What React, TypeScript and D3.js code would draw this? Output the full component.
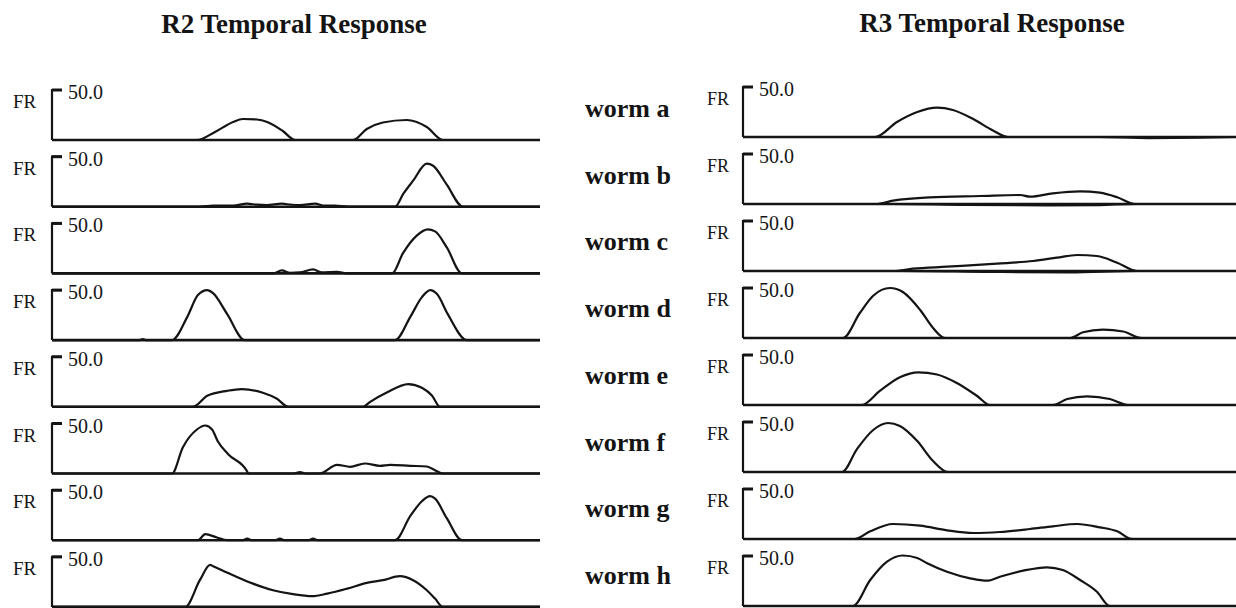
import React from 'react';
import * as d3 from 'd3';

// time runs 0..100 across each trace, FR in spikes/s (axis top = 50.0)
const worms = ['worm a', 'worm b', 'worm c', 'worm d', 'worm e', 'worm f', 'worm g', 'worm h'];
const panelTitles = ['R2 Temporal Response', 'R3 Temporal Response'];
const frMax = 50;
const frTickLabel = '50.0';

// R2 traces [time, FR]
const r2a = [[0, 0], [29.7, 0], [33.4, 8], [37.1, 18], [39.1, 21], [42, 20.5], [44.1, 18], [47.3, 9], [49.8, 0], [61.7, 0], [64.5, 11], [67.8, 17.5], [72.7, 20], [76.8, 13], [80.1, 0], [100, 0]];
const r2b = [[0, 0], [30.3, 0], [33, 1], [37.1, 1], [40, 3], [42, 2], [44, 1.5], [47.1, 3], [49, 2], [50.8, 1.5], [53.9, 3], [55.9, 1], [58, 1], [60.7, 0], [70.3, 0], [72, 13], [74, 26], [76.8, 43], [78.1, 41], [80.9, 22], [84.2, 0], [100, 0]];
const r2c = [[0, 0], [45.3, 0], [47.1, 3], [48.8, 0.5], [50.8, 1], [53.5, 4], [55.3, 1], [58.4, 1.5], [60.4, 0], [69.7, 0], [71.9, 20], [74.8, 38], [77, 44], [78.5, 42], [80.9, 26], [84, 0], [100, 0]];
const r2d = [[0, 0], [18, 0], [18.6, 1], [19.2, 0], [24.6, 0], [27.7, 23], [29.9, 45], [31.8, 50], [33, 47], [35.9, 26], [39.5, 0], [70.3, 0], [73.4, 23], [75.8, 43], [77.5, 50], [78.9, 46], [81.1, 26], [85, 0], [100, 0]];
const r2e = [[0, 0], [28.9, 0], [31.8, 11], [35.9, 16], [38.9, 17.7], [43.2, 14], [46.1, 8], [48.4, 0], [63.7, 0], [65.2, 5], [68.6, 14.3], [73, 22.7], [75.8, 19], [77.9, 11], [79.5, 0], [100, 0]];
const r2f = [[0, 0], [24.6, 0], [26.8, 26], [29.7, 44], [31.4, 48], [32.8, 44], [34, 32], [36.1, 19.3], [40, 2], [40.2, 0], [49.5, 0], [50.8, 1.5], [52, 0], [54.9, 0], [58.4, 8.7], [61.1, 6.7], [64.1, 10], [67.2, 7.7], [69.3, 8.7], [73.4, 7.7], [76.8, 7], [78.1, 4.3], [80.1, 0], [100, 0]];
const r2g = [[0, 0], [29.9, 0], [31.4, 6], [33.8, 2.7], [35.9, 0], [39, 0], [40, 1.5], [41, 0], [45.7, 0], [46.7, 1.5], [47.7, 0], [52.5, 0], [53.5, 1.5], [54.5, 0], [70.3, 0], [73.4, 24], [75.8, 39], [77.5, 44], [78.5, 41.5], [80.9, 22], [84, 0], [100, 0]];
const r2h = [[0, 0], [27.3, 0], [30.3, 26.7], [32.4, 42], [33, 40.7], [37.1, 31.7], [41.2, 23.3], [45.3, 16.7], [49.4, 12.7], [53.3, 10.7], [56.4, 13.3], [60.5, 18.3], [64.5, 24], [67.8, 26.7], [71.3, 30.7], [74, 26.7], [76.8, 16.7], [78.5, 8.3], [80.1, 0], [100, 0]];

// R3 traces [time, FR]
const r3a = [[0, 0], [26.7, 0], [31.1, 15], [35.2, 25], [39.2, 29.3], [42.4, 27], [46.5, 18], [50.5, 6.5], [53.5, 0], [100, 0]];
const r3b = [[0, 0], [27.1, 0], [30.3, 3.3], [37.8, 6.7], [47.9, 8], [56, 9], [58, 7.3], [62.6, 10.7], [68.1, 12.7], [72.1, 11.3], [75.6, 6.7], [79.2, 0], [100, 0]];
const r3c = [[0, 0], [30.3, 0], [34.3, 2.3], [41.2, 4.3], [51.3, 7.3], [58.6, 10], [63.4, 13.3], [67.5, 16], [71.5, 15], [75.6, 8.3], [79.6, 0], [100, 0]];
const r3d = [[0, 0], [20.2, 0], [23.6, 25], [26.3, 42.3], [29.7, 50], [32.3, 46], [35.8, 28], [38.4, 10], [40.8, 0], [66.1, 0], [68.7, 5.7], [72.7, 8.3], [76.8, 6.5], [80.6, 0], [100, 0]];
const r3e = [[0, 0], [24, 0], [27.7, 14.3], [31.7, 27.7], [35.4, 32.7], [39.2, 30.5], [43.2, 22], [47.3, 9], [49.9, 0], [62.6, 0], [65.5, 6], [69.5, 8.7], [74.1, 6], [77.8, 0], [100, 0]];
const r3f = [[0, 0], [20, 0], [23, 22.7], [26.3, 42], [29.3, 49], [31.7, 46], [35.2, 31], [38.4, 11], [41.4, 0], [100, 0]];
const r3g = [[0, 0], [22.6, 0], [25.7, 7.7], [30.3, 15], [35.8, 13.3], [41.2, 8.7], [46.5, 6], [51.9, 7], [58, 10], [62.6, 12.7], [67.5, 15], [72.1, 11.7], [75.6, 7.7], [78.6, 0], [100, 0]];
const r3h = [[0, 0], [22.2, 0], [25.7, 26], [29.1, 44.3], [32.3, 50.5], [35.2, 48], [37.2, 42.7], [41.2, 34.3], [45.9, 27.7], [49.3, 25.3], [51.9, 29.3], [56.6, 35.3], [61.4, 38.7], [64.6, 36], [68.1, 26], [71.5, 14.3], [74.1, 0], [100, 0]];

// lower outline of a few R3 traces, dipping just under the baseline
const r3bLow = [[0, 0], [30, 0], [45, -1], [62, -1.5], [72, -1.2], [79.2, 0], [100, 0]];
const r3cLow = [[0, 0], [32, 0], [50, -1], [66, -1.5], [79.6, 0], [100, 0]];
const r3aLow = [[0, 0], [72, 0], [82, -1.2], [92, -0.8], [100, 0]];

const r2Series = [r2a, r2b, r2c, r2d, r2e, r2f, r2g, r2h];
const r3Series = [r3a, r3b, r3c, r3d, r3e, r3f, r3g, r3h];
const r3Lower = [r3aLow, r3bLow, r3cLow, null, null, null, null, null];

const W = 1236;
const H = 608;
const serif = '"Liberation Serif", "Times New Roman", serif';
const ink = '#141414';

function Panel({ series, lower, axisX, width, base0, step, frX, frSize }) {
  const x = d3.scaleLinear().domain([0, 100]).range([axisX, axisX + width]);
  return (
    <g>
      {series.map((pts, i) => {
        const base = base0 + i * step;
        const y = d3.scaleLinear().domain([0, frMax]).range([base, base - 50]);
        const line = d3.line()
          .x((d) => x(d[0]))
          .y((d) => y(d[1]))
          .curve(d3.curveMonotoneX);
        const top = y(frMax);
        const low = lower ? lower[i] : null;
        return (
          <g key={i}>
            <text x={frX} y={top + 18} fontFamily={serif} fontSize={frSize} fill={ink}>FR</text>
            <text x={axisX + 16} y={top + 9} fontFamily={serif} fontSize={20} fill={ink}>{frTickLabel}</text>
            {/* bracket axis */}
            <path d={`M${axisX + 10},${top}H${axisX}V${base}`} fill="none" stroke={ink} strokeWidth={2.2} />
            <line x1={axisX} x2={axisX + 10} y1={top} y2={top} stroke={ink} strokeWidth={3} />
            <line x1={axisX} x2={axisX + width} y1={base} y2={base} stroke={ink} strokeWidth={2.6} />
            {low && <path d={line(low)} fill="none" stroke={ink} strokeWidth={2} />}
            <path d={line(pts)} fill="none" stroke={ink} strokeWidth={2.2} strokeLinejoin="round" />
          </g>
        );
      })}
    </g>
  );
}

export default function App() {
  return (
    <div style={{ position: 'absolute', left: 0, top: 0 }}>
      <svg width={W} height={H} style={{ display: 'block', background: '#fff' }}>
        <text x={294} y={33} textAnchor="middle" fontFamily={serif} fontWeight="bold" fontSize={27} fill={ink}>{panelTitles[0]}</text>
        <text x={992} y={32} textAnchor="middle" fontFamily={serif} fontWeight="bold" fontSize={27} fill={ink}>{panelTitles[1]}</text>
        <Panel series={r2Series} lower={null} axisX={52} width={488} base0={140} step={66.7} frX={13} frSize={19} />
        <Panel series={r3Series} lower={r3Lower} axisX={743} width={495} base0={137} step={67} frX={707} frSize={18} />
        {worms.map((w, i) => (
          <text key={w} x={585} y={140 + i * 66.7 - 23} fontFamily={serif} fontWeight="bold" fontSize={26} fill={ink}>{w}</text>
        ))}
      </svg>
    </div>
  );
}
